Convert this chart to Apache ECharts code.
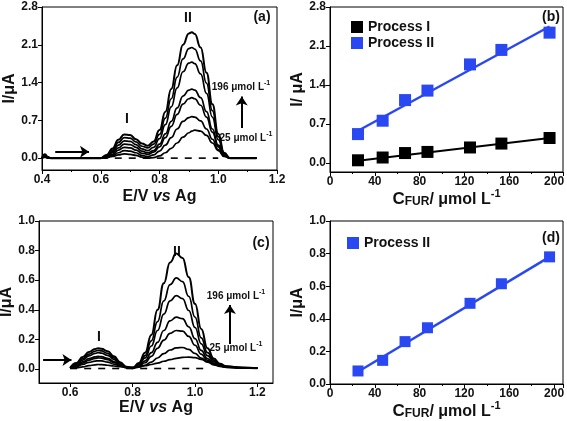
<!DOCTYPE html>
<html><head><meta charset="utf-8">
<script src="https://cdn.jsdelivr.net/npm/echarts@6/dist/echarts.min.js"></script>
<style>html,body{margin:0;padding:0;background:#fff}#c{width:567px;height:421px}</style>
</head><body><div id="c"></div><script>
// ---------- Panel (a): DPV curves, process I & II ----------
const potentialA = [0.40,0.41,0.42,0.43,0.60,0.62,0.64,0.66,0.68,0.70,0.72,0.74,0.76,0.78,0.80,0.82,0.84,0.86,0.88,0.90,0.91,0.92,0.94,0.96,0.98,1.00,1.02,1.04,1.13];
const curveA196 = [0,0.07,0.02,0,0,0.06,0.18,0.34,0.44,0.43,0.35,0.27,0.23,0.31,0.52,0.86,1.28,1.72,2.10,2.31,2.33,2.30,2.05,1.58,1.00,0.45,0.10,0,0];
const curveA153 = [0,0.06,0.02,0,0,0.05,0.15,0.29,0.38,0.37,0.30,0.22,0.19,0.26,0.44,0.74,1.10,1.50,1.84,2.03,2.05,2.02,1.80,1.39,0.88,0.40,0.09,0,0];
const curveA125 = [0,0.05,0.01,0,0,0.04,0.12,0.24,0.32,0.31,0.25,0.17,0.14,0.20,0.36,0.62,0.95,1.30,1.60,1.76,1.78,1.75,1.56,1.20,0.76,0.34,0.08,0,0];
const curveA87  = [0,0.04,0.01,0,0,0.03,0.10,0.19,0.26,0.25,0.20,0.13,0.10,0.14,0.26,0.45,0.68,0.93,1.15,1.26,1.28,1.26,1.12,0.86,0.54,0.24,0.06,0,0];
const curveA67  = [0,0.03,0.01,0,0,0.02,0.07,0.15,0.20,0.19,0.15,0.09,0.07,0.11,0.21,0.38,0.59,0.81,1.00,1.10,1.12,1.10,0.98,0.76,0.48,0.21,0.05,0,0];
const curveA47  = [0,0.02,0,0,0,0.01,0.05,0.10,0.14,0.13,0.10,0.05,0.03,0.06,0.13,0.24,0.38,0.54,0.68,0.75,0.77,0.76,0.69,0.54,0.35,0.16,0.04,0,0];
const curveA25  = [0,0.02,0,0,0,0.01,0.03,0.06,0.08,0.07,0.05,0.02,0,0.01,0.04,0.10,0.18,0.28,0.39,0.47,0.50,0.52,0.50,0.42,0.28,0.14,0.03,0,0];
const blankAx = [0.60, 1.00];
const blankAy = [0, 0];

// ---------- Panel (c): DPV curves ----------
const potentialC = [0.60,0.62,0.64,0.66,0.68,0.69,0.70,0.72,0.74,0.76,0.78,0.80,0.82,0.84,0.86,0.88,0.90,0.92,0.94,0.96,0.98,1.00,1.02,1.04,1.06,1.08,1.10,1.15,1.20];
const curveC196 = [0.008,0.04,0.08,0.115,0.135,0.14,0.137,0.12,0.085,0.045,0.015,0.005,0.04,0.11,0.23,0.40,0.58,0.72,0.78,0.75,0.62,0.44,0.27,0.14,0.07,0.035,0.018,0.008,0.005];
const curveC153 = [0.008,0.035,0.07,0.10,0.12,0.125,0.122,0.105,0.075,0.04,0.013,0.005,0.035,0.09,0.19,0.32,0.46,0.57,0.615,0.59,0.49,0.35,0.21,0.11,0.06,0.03,0.016,0.008,0.005];
const curveC125 = [0.007,0.03,0.06,0.088,0.105,0.11,0.107,0.092,0.065,0.035,0.012,0.005,0.03,0.075,0.155,0.26,0.37,0.46,0.495,0.475,0.395,0.28,0.17,0.09,0.05,0.026,0.015,0.008,0.005];
const curveC87  = [0.006,0.024,0.048,0.07,0.082,0.085,0.083,0.072,0.05,0.027,0.01,0.005,0.022,0.055,0.11,0.18,0.26,0.325,0.35,0.34,0.285,0.205,0.125,0.07,0.04,0.022,0.013,0.007,0.005];
const curveC67  = [0.006,0.02,0.04,0.06,0.072,0.075,0.073,0.063,0.044,0.024,0.009,0.005,0.018,0.042,0.085,0.14,0.195,0.24,0.26,0.255,0.22,0.16,0.10,0.058,0.034,0.02,0.012,0.007,0.005];
const curveC47  = [0.005,0.015,0.03,0.045,0.053,0.055,0.054,0.046,0.033,0.019,0.009,0.006,0.012,0.025,0.046,0.074,0.103,0.128,0.142,0.145,0.132,0.105,0.073,0.046,0.028,0.017,0.011,0.007,0.005];
const curveC25  = [0.005,0.008,0.014,0.022,0.028,0.03,0.029,0.025,0.02,0.015,0.012,0.012,0.016,0.022,0.03,0.04,0.052,0.063,0.072,0.078,0.08,0.076,0.065,0.05,0.036,0.025,0.018,0.01,0.005];
const blankCx = [0.60, 1.04];
const blankCy = [0.003, 0.003];

// ---------- Panels (b) and (d): calibration ----------
const concentration = [25, 47, 67, 87, 125, 153, 196];
const processI_b  = [0.05, 0.10, 0.18, 0.20, 0.28, 0.35, 0.45];
const processII_b = [0.52, 0.76, 1.13, 1.30, 1.77, 2.03, 2.34];
const fitX = [25, 196];
const fitI_b  = [0.04, 0.45];
const fitII_b = [0.58, 2.45];
const processII_d = [0.08, 0.145, 0.26, 0.345, 0.495, 0.615, 0.78];
const fitII_d = [0.075, 0.78];

// tick labels
const yTicksA = [0, 0.7, 1.4, 2.1, 2.8];
const yTicksB = [0, 0.7, 1.4, 2.1, 2.8];
const xTicksC = [0.6, 0.8, 1.0, 1.2];
const yTicksC = [0, 0.2, 0.4, 0.6, 0.8, 1.0];

const FONT = '"Liberation Sans", Arial, sans-serif';
const BLUE = '#2a48f2';
const zip = (xs, ys) => xs.map((x, i) => [x, ys[i]]);

const axisCommon = {
  axisLine: {onZero: false, lineStyle: {color: '#000', width: 1}},
  axisTick: {inside: false, length: 4, lineStyle: {color: '#000'}},
  axisLabel: {color: '#111', fontSize: 12, fontWeight: 'bold', fontFamily: FONT, margin: 4},
  splitLine: {show: false}
};
function ax(extra) {
  const o = JSON.parse(JSON.stringify(axisCommon));
  for (const k in extra) {
    if (typeof extra[k] === 'object' && !Array.isArray(extra[k]) && o[k]) Object.assign(o[k], extra[k]);
    else o[k] = extra[k];
  }
  return o;
}
const f1 = v => Number(v).toFixed(1);
const f0 = v => String(Math.round(v));

const nameEV = '{b|E/V }{i|vs}{b| Ag}';
const nameEVStyle = {rich: {
  b: {fontSize: 16, fontWeight: 'bold', fontFamily: FONT, color: '#111'},
  i: {fontSize: 16, fontWeight: 'bold', fontStyle: 'italic', fontFamily: FONT, color: '#111'}
}};
const nameC = '{c|C}{sub|FUR}{t|/ μmol L}{sup|-1}';
const nameCStyle = {rich: {
  c: {fontSize: 17, fontWeight: 'bold', fontFamily: FONT, color: '#111', lineHeight: 19, verticalAlign: 'bottom'},
  sub: {fontSize: 12, fontWeight: 'bold', fontFamily: FONT, color: '#111', lineHeight: 19, verticalAlign: 'bottom'},
  t: {fontSize: 16, fontWeight: 'bold', fontFamily: FONT, color: '#111', lineHeight: 19, verticalAlign: 'bottom'},
  sup: {fontSize: 11, fontWeight: 'bold', fontFamily: FONT, color: '#111', lineHeight: 19, verticalAlign: 'top'}
}};
const yNameStyle = {fontSize: 16, fontWeight: 'bold', fontFamily: FONT, color: '#111'};

const grids = [
  {left: 42, top: 7, width: 235, height: 163},
  {left: 330, top: 7, width: 233, height: 165},
  {left: 39, top: 221, width: 234, height: 162},
  {left: 330, top: 221, width: 233, height: 163}
].map(g => Object.assign(g, {show: true, borderColor: '#000', borderWidth: 1, containLabel: false, outerBoundsMode: 'none'}));

const xAxes = [
  ax({gridIndex: 0, type: 'value', min: 0.4, max: 1.2, interval: 0.2,
      axisLabel: {formatter: f1}, minorTick: {show: true, splitNumber: 2, length: 2, lineStyle: {color: '#000'}},
      name: nameEV, nameLocation: 'middle', nameGap: 19, nameTextStyle: nameEVStyle}),
  ax({gridIndex: 1, type: 'value', min: 0, max: 208, interval: 40,
      axisLabel: {formatter: f0}, minorTick: {show: true, splitNumber: 2, length: 2, lineStyle: {color: '#000'}},
      name: nameC, nameLocation: 'middle', nameGap: 16, nameTextStyle: nameCStyle}),
  ax({gridIndex: 2, type: 'value', min: 0.5, max: 1.25,
      axisLabel: {formatter: f1, customValues: xTicksC}, axisTick: {customValues: xTicksC},
      name: nameEV, nameLocation: 'middle', nameGap: 16, nameTextStyle: nameEVStyle}),
  ax({gridIndex: 3, type: 'value', min: 0, max: 208, interval: 40,
      axisLabel: {formatter: f0}, minorTick: {show: true, splitNumber: 2, length: 2, lineStyle: {color: '#000'}},
      name: nameC, nameLocation: 'middle', nameGap: 15, nameTextStyle: nameCStyle})
];
const yAxes = [
  ax({gridIndex: 0, type: 'value', min: -0.22, max: 2.8,
      axisLabel: {formatter: f1, customValues: yTicksA}, axisTick: {customValues: yTicksA},
      name: 'I/μA', nameLocation: 'middle', nameGap: 22, nameTextStyle: yNameStyle}),
  ax({gridIndex: 1, type: 'value', min: -0.16, max: 2.8,
      axisLabel: {formatter: f1, customValues: yTicksB}, axisTick: {customValues: yTicksB},
      name: 'I/ μA', nameLocation: 'middle', nameGap: 22, nameTextStyle: yNameStyle}),
  ax({gridIndex: 2, type: 'value', min: -0.095, max: 1.0,
      axisLabel: {formatter: f1, customValues: yTicksC}, axisTick: {customValues: yTicksC},
      name: 'I/μA', nameLocation: 'middle', nameGap: 22, nameTextStyle: yNameStyle}),
  ax({gridIndex: 3, type: 'value', min: 0, max: 1.0, interval: 0.2,
      axisLabel: {formatter: f1},
      name: 'I/μA', nameLocation: 'middle', nameGap: 22, nameTextStyle: yNameStyle})
];

function curve(idx, xs, ys, w) {
  return {type: 'line', xAxisIndex: idx, yAxisIndex: idx, data: zip(xs, ys), smooth: 0.5, smoothMonotone: 'x',
    showSymbol: false, symbol: 'none', silent: true, lineStyle: {color: '#000', width: w || 1.7}};
}
const arrowLine = (pairs) => ({silent: true, symbol: ['none', 'arrow'], symbolSize: 9, label: {show: false},
  lineStyle: {color: '#000', width: 2, type: 'solid'},
  data: pairs.map(p => [{coord: p[0]}, {coord: p[1]}])});

const series = [];
[curveA196, curveA153, curveA125, curveA87, curveA67, curveA47, curveA25].forEach((c, i) =>
  series.push(curve(0, potentialA, c, i === 0 ? 2.0 : 1.7)));
series.push({type: 'line', xAxisIndex: 0, yAxisIndex: 0, data: zip(blankAx, blankAy), showSymbol: false, symbol: 'none',
  lineStyle: {color: '#000', width: 1.6, type: [7, 7]}, z: 1,
  markLine: arrowLine([[[0.445, 0.12], [0.56, 0.12]], [[1.08, 0.56], [1.08, 1.14]]])});

[curveC196, curveC153, curveC125, curveC87, curveC67, curveC47, curveC25].forEach((c, i) =>
  series.push(curve(2, potentialC, c, i === 0 ? 2.0 : 1.7)));
series.push({type: 'line', xAxisIndex: 2, yAxisIndex: 2, data: zip(blankCx, blankCy), showSymbol: false, symbol: 'none',
  lineStyle: {color: '#000', width: 1.6, type: [7, 7]}, z: 1,
  markLine: arrowLine([[[0.513, 0.061], [0.604, 0.061]], [[1.112, 0.169], [1.112, 0.432]]])});

const scatterBase = {type: 'scatter', symbol: 'rect', emphasis: {disabled: true}};
// panel (b)
series.push({type: 'line', xAxisIndex: 1, yAxisIndex: 1, data: zip(fitX, fitI_b), showSymbol: false, symbol: 'none', silent: true,
  lineStyle: {color: '#000', width: 2}});
series.push({type: 'line', xAxisIndex: 1, yAxisIndex: 1, data: zip(fitX, fitII_b), showSymbol: false, symbol: 'none', silent: true,
  lineStyle: {color: BLUE, width: 2.5}});
series.push(Object.assign({name: 'Process I', xAxisIndex: 1, yAxisIndex: 1, data: zip(concentration, processI_b),
  symbolSize: 12, itemStyle: {color: '#000', opacity: 1}}, scatterBase));
series.push(Object.assign({name: 'Process II', xAxisIndex: 1, yAxisIndex: 1, data: zip(concentration, processII_b),
  symbolSize: 12, itemStyle: {color: BLUE, opacity: 1}}, scatterBase));
// panel (d)
series.push({type: 'line', xAxisIndex: 3, yAxisIndex: 3, data: zip(fitX, fitII_d), showSymbol: false, symbol: 'none', silent: true,
  lineStyle: {color: BLUE, width: 2.5}});
series.push(Object.assign({name: 'Process II', xAxisIndex: 3, yAxisIndex: 3, data: zip(concentration, processII_d),
  symbolSize: 11, itemStyle: {color: BLUE, opacity: 1}}, scatterBase));

const legendText = {fontSize: 14, fontWeight: 'bold', fontFamily: FONT, color: '#111'};
const legends = [
  {left: 346, top: 15, orient: 'vertical', itemWidth: 12, itemHeight: 12, itemGap: 2, icon: 'rect',
   data: ['Process I', 'Process II'], textStyle: legendText, selectedMode: false},
  {left: 342, top: 231, orient: 'vertical', itemWidth: 12, itemHeight: 12, icon: 'rect',
   data: ['Process II'], textStyle: legendText, selectedMode: false}
];

const tStyle = (txt, x, y, size, extra) => ({type: 'text', x: x, y: y, silent: true,
  style: Object.assign({text: txt, fontSize: size, fontWeight: 'bold', fontFamily: FONT, fill: '#111',
    align: 'center', verticalAlign: 'middle'}, extra || {})});
const concRich = {rich: {
  n: {fontSize: 10, fontWeight: 'bold', fontFamily: FONT, fill: '#111', color: '#111', lineHeight: 12, verticalAlign: 'bottom'},
  s: {fontSize: 7, fontWeight: 'bold', fontFamily: FONT, fill: '#111', color: '#111', lineHeight: 12, verticalAlign: 'top'}
}};
const graphics = [
  tStyle('(a)', 262, 17, 14),
  tStyle('II', 188, 18, 14),
  tStyle('I', 127, 119, 14),
  tStyle('{n|196 μmol L}{s|-1}', 241, 86, 10, concRich),
  tStyle('{n|25 μmol L}{s|-1}', 246, 137, 10, concRich),
  tStyle('(b)', 551, 17, 14),
  tStyle('(c)', 261, 243, 14),
  tStyle('II', 177, 252, 14),
  tStyle('I', 99, 337, 14),
  tStyle('{n|196 μmol L}{s|-1}', 236, 295, 10, concRich),
  tStyle('{n|25 μmol L}{s|-1}', 236, 347, 10, concRich),
  tStyle('(d)', 551, 238, 14)
];

const chart = echarts.init(document.getElementById('c'), null, {renderer: 'canvas'});
chart.setOption({
  animation: false,
  backgroundColor: '#fff',
  grid: grids, xAxis: xAxes, yAxis: yAxes,
  legend: legends,
  series: series,
  graphic: graphics
});
</script></body></html>
